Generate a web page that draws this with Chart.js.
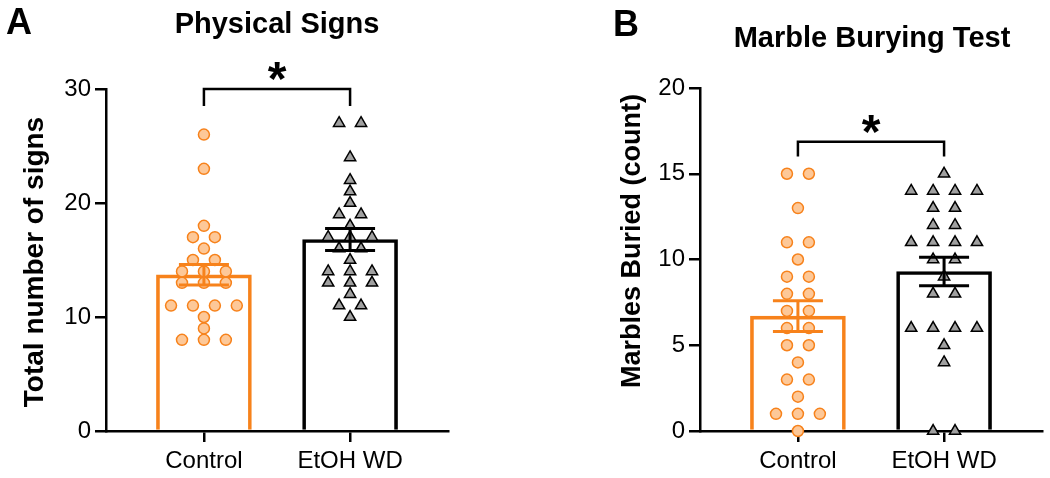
<!DOCTYPE html>
<html>
<head>
<meta charset="utf-8">
<script src="https://cdn.jsdelivr.net/npm/chart.js@4.4.0/dist/chart.umd.min.js"></script>
<style>
  body { margin: 0; background: #fff; }
  .wrap { display: flex; width: 1050px; height: 478px; }
  canvas { display: block; }
</style>
</head>
<body>
<div class="wrap">
  <canvas id="chartA" width="525" height="478"></canvas>
  <canvas id="chartB" width="525" height="478"></canvas>
</div>
<script>
const groups = ['Control', 'EtOH WD'];

// A - physical signs
const signsControl = [26, 23, 18, 17, 17, 16, 15, 15, 14, 14, 14, 13, 13, 13, 11, 11, 11, 11, 10, 9, 8, 8, 8];
const signsEtoh = [27, 27, 24, 22, 21, 20, 19, 19, 18, 17, 17, 17, 16, 16, 15, 14, 14, 14, 13, 13, 13, 12, 11, 11, 10];
const signsMean = [13.7, 16.8];
const signsSem = [0.9, 0.97];
const signsTicks = [0, 10, 20, 30];

// B - marble burying
const marbleControl = [15, 15, 13, 11, 11, 10, 9, 9, 8, 8, 7, 7, 6, 6, 5, 5, 4, 3, 3, 2, 1, 1, 1, 0];
const marbleEtoh = [15, 14, 14, 14, 14, 13, 13, 12, 12, 11, 11, 11, 11, 10, 10, 9, 8, 8, 6, 6, 6, 6, 5, 4, 0, 0];
const marbleMean = [6.7, 9.3];
const marbleSem = [0.9, 0.83];
const marbleTicks = [0, 5, 10, 15, 20];

const ORANGE = '#f7821b';
const ORANGE_FILL = '#fdc898';
const GRAY_FILL = '#a0a0a0';
const FONT = "'Liberation Sans', Arial, sans-serif";
const STEP = 0.15; // sideways gap between equal values

Chart.defaults.font.family = FONT;
Chart.defaults.color = '#000';

// spread equal values sideways, like a column scatter
function swarm(values, group) {
  const counts = {}, seen = {};
  values.forEach(v => counts[v] = (counts[v] || 0) + 1);
  return values.map(v => {
    seen[v] = seen[v] === undefined ? 0 : seen[v] + 1;
    return { x: group + (seen[v] - (counts[v] - 1) / 2) * STEP, y: v };
  });
}

function buildChart(id, p) {
  const decor = {
    id: 'decor',
    afterDatasetsDraw(chart) {
      const { ctx, scales: { x, y } } = chart;
      ctx.save();
      p.mean.forEach((m, i) => {
        const cx = x.getPixelForValue(i);
        const top = y.getPixelForValue(m + p.sem[i]);
        const bot = y.getPixelForValue(m - p.sem[i]);
        ctx.strokeStyle = i === 0 ? ORANGE : '#000';
        ctx.lineWidth = 3;
        ctx.beginPath();
        ctx.moveTo(cx, top); ctx.lineTo(cx, bot);
        ctx.moveTo(cx - 25, top); ctx.lineTo(cx + 25, top);
        ctx.moveTo(cx - 25, bot); ctx.lineTo(cx + 25, bot);
        ctx.stroke();
      });
      const [lineY, endY, starY] = p.bracket;
      const x0 = x.getPixelForValue(0), x1 = x.getPixelForValue(1);
      const yl = y.getPixelForValue(lineY), ye = y.getPixelForValue(endY);
      ctx.strokeStyle = '#000';
      ctx.lineWidth = 2.5;
      ctx.beginPath();
      ctx.moveTo(x0, ye); ctx.lineTo(x0, yl); ctx.lineTo(x1, yl); ctx.lineTo(x1, ye);
      ctx.stroke();
      ctx.fillStyle = '#000';
      ctx.textAlign = 'center';
      ctx.textBaseline = 'alphabetic';
      ctx.font = 'bold 48px ' + FONT;
      const mt = ctx.measureText('*');
      const cy = y.getPixelForValue(starY);
      ctx.fillText('*', (x0 + x1) / 2, cy + (mt.actualBoundingBoxAscent - mt.actualBoundingBoxDescent) / 2);
      ctx.restore();
    },
    afterDraw(chart) {
      const ctx = chart.ctx;
      ctx.save();
      ctx.fillStyle = '#000';
      ctx.textBaseline = 'alphabetic';
      ctx.textAlign = 'left';
      ctx.font = 'bold 36px ' + FONT;
      ctx.fillText(p.letter, p.letterPos[0], p.letterPos[1]);
      ctx.textAlign = 'center';
      ctx.font = 'bold 29px ' + FONT;
      ctx.fillText(p.title, p.titlePos[0], p.titlePos[1]);
      ctx.translate(p.yTitlePos[0], p.yTitlePos[1]);
      ctx.rotate(-Math.PI / 2);
      ctx.textBaseline = 'middle';
      ctx.font = 'bold ' + p.yTitleSize + 'px ' + FONT;
      ctx.fillText(p.yTitle, 0, 0);
      ctx.restore();
    }
  };

  const axisLine = { drawOnChartArea: false, tickLength: 11, color: '#000', lineWidth: 2.5, offset: false };

  return new Chart(document.getElementById(id), {
    type: 'bar',
    data: {
      datasets: [
        {
          type: 'scatter', data: swarm(p.control, 0), pointStyle: 'circle', pointRadius: 5.5,
          backgroundColor: ORANGE_FILL, borderColor: ORANGE, borderWidth: 1.5, order: 1, clip: false
        },
        {
          type: 'scatter', data: swarm(p.etoh, 1), pointStyle: 'triangle', pointRadius: 6.5,
          backgroundColor: GRAY_FILL, borderColor: '#000', borderWidth: 1.5, order: 1, clip: false
        },
        {
          type: 'bar', data: p.mean.map((m, i) => ({ x: i, y: m })),
          backgroundColor: 'rgba(255,255,255,0)', borderColor: [ORANGE, '#000'],
          borderWidth: 3, barThickness: 95, order: 2
        }
      ]
    },
    options: {
      responsive: false,
      animation: false,
      devicePixelRatio: 1,
      layout: { padding: { top: p.top, right: p.right, left: 0, bottom: 0 } },
      plugins: { legend: { display: false }, tooltip: { enabled: false } },
      scales: {
        x: {
          type: 'linear', min: -0.67, max: 1.67, offset: false, z: 1,
          afterBuildTicks: s => { s.ticks = [{ value: 0 }, { value: 1 }]; },
          afterFit: s => { s.height = 47; },
          ticks: { callback: v => groups[v], font: { size: 24 }, padding: 5, maxRotation: 0, autoSkip: false },
          grid: axisLine,
          border: { color: '#000', width: 2.5 }
        },
        y: {
          min: 0, max: p.max, z: 1,
          afterBuildTicks: s => { s.ticks = p.ticks.map(v => ({ value: v })); },
          afterFit: s => { s.width = p.axisLeft; },
          ticks: { font: { size: 24 }, padding: 4 },
          grid: axisLine,
          border: { color: '#000', width: 2.5 }
        }
      }
    },
    plugins: [decor]
  });
}

buildChart('chartA', {
  control: signsControl, etoh: signsEtoh, mean: signsMean, sem: signsSem,
  ticks: signsTicks, max: 30, bracket: [30, 28.5, 31.6],
  top: 89, right: 77, axisLeft: 106,
  letter: 'A', letterPos: [6, 34], title: 'Physical Signs', titlePos: [277, 33],
  yTitle: 'Total number of signs', yTitleSize: 28, yTitlePos: [35, 262]
});

buildChart('chartB', {
  control: marbleControl, etoh: marbleEtoh, mean: marbleMean, sem: marbleSem,
  ticks: marbleTicks, max: 20, bracket: [16.87, 16.0, 17.9],
  top: 88, right: 7, axisLeft: 175,
  letter: 'B', letterPos: [88, 36], title: 'Marble Burying Test', titlePos: [347, 47],
  yTitle: 'Marbles Buried (count)', yTitleSize: 27, yTitlePos: [108, 241]
});
</script>
</body>
</html>
